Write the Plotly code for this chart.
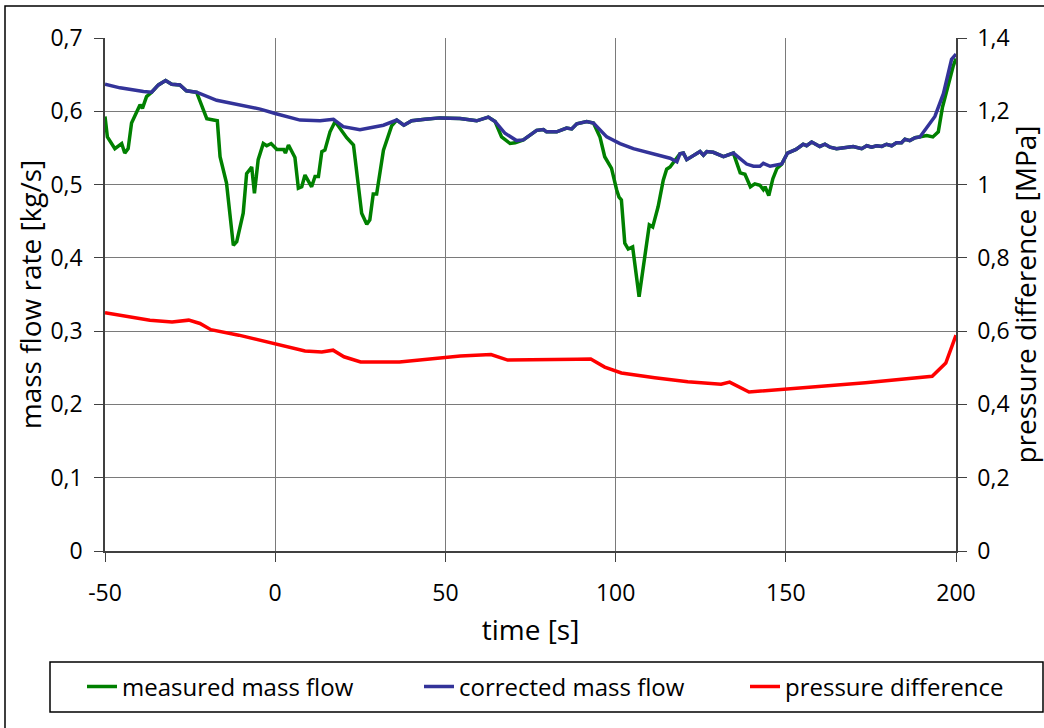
import plotly.graph_objects as go

# corrected mass flow [kg/s]
t_corr = [-50, -45.6, -38.7, -36.3, -34.3, -32.2, -30.4, -28, -26.1, -23.1, -17.2, -9.4, -4.4, 0,
          7.3, 13.2, 17.1, 20, 24.9, 31.8, 35.7, 37.8, 40.1, 44, 48.4, 54.3, 59.2, 62.6, 64.6,
          67.5, 70.9, 72.9, 76.8, 78.8, 79.7, 82.7, 85.6, 87.1, 88.6, 91.5, 93.5, 97.4, 101.3,
          105.2, 111.1, 116, 118, 118.9, 119.9, 120.9, 124.8, 125.8, 126.8, 128.7, 131.7, 134.6,
          138.5, 140.5, 142.4, 143.4, 145.4, 148.8, 150.5, 153, 155.1, 156.1, 157.6, 160, 161.5,
          163, 164.9, 169.8, 172.3, 173.8, 175.2, 176.7, 178.2, 179.6, 181.1, 182.5, 184, 185,
          186.4, 188, 189.4, 191.4, 193.8, 196.3, 198.7, 200]
m_corr = [0.637, 0.632, 0.627, 0.626, 0.636, 0.642, 0.637, 0.636, 0.628, 0.626, 0.615, 0.608, 0.603, 0.597,
          0.588, 0.587, 0.589, 0.579, 0.575, 0.581, 0.588, 0.581, 0.587, 0.589, 0.591, 0.590, 0.587, 0.592, 0.586,
          0.570, 0.560, 0.561, 0.574, 0.575, 0.572, 0.572, 0.577, 0.576, 0.583, 0.586, 0.584, 0.565, 0.556,
          0.549, 0.542, 0.536, 0.531, 0.542, 0.543, 0.534, 0.545, 0.540, 0.545, 0.544, 0.538, 0.543,
          0.528, 0.525, 0.525, 0.529, 0.525, 0.528, 0.543, 0.548, 0.555, 0.553, 0.558, 0.552, 0.555,
          0.551, 0.549, 0.552, 0.549, 0.553, 0.551, 0.553, 0.552, 0.555, 0.553, 0.557, 0.557, 0.562,
          0.560, 0.564, 0.565, 0.577, 0.593, 0.624, 0.671, 0.678]

# measured mass flow [kg/s]
t_meas = [-50, -49.3, -47.1, -45.1, -44.2, -43.2, -42.2, -39.7, -39, -37.8, -36.3, -34.3, -32.2, -30.4,
          -28, -26.1, -23.1, -22.1, -20.1, -17, -16.2, -14.3, -12.3, -11.3, -9.4, -8.4, -6.9, -6.1,
          -5, -3.5, -2.5, -1.2, 0.5, 2.5, 3, 3.9, 5.8, 6.8, 7.8, 8.75, 10.7, 11.7, 12.7, 13.7, 14.6,
          16.1, 17.6, 21, 23, 25.4, 26.9, 27.8, 28.8, 29.8, 31.8, 34.2, 35.7, 37.8, 40.1, 44, 48.4,
          54.3, 59.2, 62.6, 64.6, 66.5, 69, 70.5, 72.9, 76.8, 78.8, 79.7, 82.7, 85.6, 87.1, 88.6,
          91.5, 93.5, 95.4, 96.8, 98.8, 100.3, 101, 101.7, 102.7, 103.7, 105, 106.9, 108.6, 109.9,
          110.9, 112.5, 114, 115, 116, 117.4, 118.9, 119.9, 120.9, 124.8, 125.8, 126.8, 128.7,
          131.7, 134.6, 136.6, 138, 139.6, 140.9, 142.4, 143.4, 143.9, 145, 146.2, 147.4, 148.8,
          150.5, 153, 155.1, 156.1, 157.6, 160, 161.5, 163, 164.9, 169.8, 172.3, 173.8, 175.2,
          176.7, 178.2, 179.6, 181.1, 182.5, 184, 185, 186.4, 188, 189.4, 191.4, 193.2, 194.8,
          196, 197.6, 199.2, 200]
m_meas = [0.593, 0.565, 0.549, 0.556, 0.543, 0.549, 0.584, 0.609, 0.604, 0.620, 0.626, 0.636, 0.642, 0.637,
          0.636, 0.628, 0.626, 0.615, 0.590, 0.587, 0.538, 0.502, 0.417, 0.422, 0.461, 0.515, 0.524, 0.488,
          0.534, 0.556, 0.553, 0.556, 0.548, 0.548, 0.543, 0.554, 0.537, 0.495, 0.497, 0.513, 0.497, 0.511, 0.511, 0.545, 0.547,
          0.572, 0.586, 0.564, 0.554, 0.461, 0.446, 0.452, 0.487, 0.487, 0.547, 0.580, 0.588, 0.581, 0.587, 0.589, 0.591,
          0.590, 0.587, 0.592, 0.586, 0.565, 0.556, 0.557, 0.561, 0.574, 0.575, 0.572, 0.572, 0.577, 0.576, 0.583,
          0.586, 0.584, 0.565, 0.538, 0.522, 0.493, 0.483, 0.479, 0.420, 0.412, 0.415, 0.347, 0.399, 0.445,
          0.442, 0.470, 0.506, 0.521, 0.524, 0.533, 0.542, 0.543, 0.534, 0.545, 0.540, 0.545, 0.544,
          0.538, 0.543, 0.516, 0.514, 0.497, 0.501, 0.499, 0.493, 0.497, 0.485, 0.508, 0.522, 0.528,
          0.543, 0.548, 0.555, 0.553, 0.558, 0.552, 0.555, 0.551, 0.549, 0.552, 0.549, 0.553, 0.551,
          0.553, 0.552, 0.555, 0.553, 0.557, 0.557, 0.562, 0.560, 0.564, 0.565, 0.567, 0.565, 0.572,
          0.605, 0.635, 0.662, 0.672]

# pressure difference [MPa]
t_dp = [-50, -43.4, -36.8, -30.3, -25.4, -22.1, -18.9, -10.7, 0, 8.75, 13.7, 17, 20.2, 25.1, 36.5,
        46.3, 54.4, 63.4, 68.3, 88.7, 92.7, 96.8, 101.7, 111.5, 121.2, 131, 133.5, 139.2, 144.1,
        150.6, 158.7, 173.4, 186.4, 193, 197, 200]
dp = [0.650, 0.639, 0.630, 0.625, 0.630, 0.621, 0.604, 0.589, 0.564, 0.546, 0.543, 0.548, 0.530, 0.516, 0.516,
      0.524, 0.532, 0.536, 0.521, 0.523, 0.524, 0.502, 0.486, 0.473, 0.462, 0.455, 0.461, 0.434, 0.437,
      0.443, 0.448, 0.459, 0.472, 0.477, 0.513, 0.589]

x_ticks = [-50, 0, 50, 100, 150, 200]
y1_ticks = [0, 0.1, 0.2, 0.3, 0.4, 0.5, 0.6, 0.7]
y1_labels = ["0", "0,1", "0,2", "0,3", "0,4", "0,5", "0,6", "0,7"]
y2_ticks = [0, 0.2, 0.4, 0.6, 0.8, 1.0, 1.2, 1.4]
y2_labels = ["0", "0,2", "0,4", "0,6", "0,8", "1", "1,2", "1,4"]

FONT = "Open Sans"
FS = 23
GRID = "#7a7a7a"
AXL = "#404040"
LW = 3.5

W, H = 1044, 728
ML, MR, MT, MB = 105, 88, 38, 177
PW, PH = W - ML - MR, H - MT - MB


def px_x(p):
    return (p - ML) / PW


def px_y(p):
    return (H - MB - p) / PH


fig = go.Figure()
fig.add_trace(go.Scatter(x=t_meas, y=m_meas, mode="lines", name="measured mass flow",
                         line=dict(color="#008000", width=LW), legend="legend"))
fig.add_trace(go.Scatter(x=t_corr, y=m_corr, mode="lines", name="corrected mass flow",
                         line=dict(color="#333399", width=LW), legend="legend2"))
fig.add_trace(go.Scatter(x=t_dp, y=dp, mode="lines", name="pressure difference",
                         line=dict(color="#ff0000", width=LW), yaxis="y2", legend="legend3"))

leg_common = dict(orientation="h", yanchor="middle", xanchor="left", y=px_y(687),
                  borderwidth=0, bgcolor="rgba(0,0,0,0)", font=dict(family=FONT, size=24))

fig.update_layout(
    width=W, height=H,
    margin=dict(l=ML, r=MR, t=MT, b=MB, autoexpand=False),
    paper_bgcolor="white", plot_bgcolor="white",
    font=dict(family=FONT, size=FS, color="black"),
    showlegend=True,
    legend=dict(x=px_x(82), **leg_common),
    legend2=dict(x=px_x(419), **leg_common),
    legend3=dict(x=px_x(745), **leg_common),
    xaxis=dict(range=[-50, 200], tickvals=x_ticks, ticktext=[str(v) for v in x_ticks],
               showgrid=True, gridcolor=GRID, gridwidth=1, zeroline=False,
               showline=True, linecolor=AXL, linewidth=1.5,
               ticks="outside", ticklen=9, tickcolor=AXL, ticklabelstandoff=12,
               title=dict(text="time [s]", standoff=13)),
    yaxis=dict(range=[0, 0.7], tickvals=y1_ticks, ticktext=y1_labels,
               showgrid=True, gridcolor=GRID, gridwidth=1, zeroline=False,
               showline=True, linecolor=AXL, linewidth=1.5,
               ticks="outside", ticklen=9, tickcolor=AXL, ticklabelstandoff=7,
               title=dict(text="mass flow rate [kg/s]", standoff=1)),
    yaxis2=dict(range=[0, 1.4], tickvals=y2_ticks, ticktext=y2_labels, overlaying="y", side="right",
                showgrid=False, zeroline=False,
                showline=True, linecolor=AXL, linewidth=1.5,
                ticks="outside", ticklen=9, tickcolor=AXL, ticklabelstandoff=6,
                title=dict(text="pressure difference [MPa]", standoff=2)),
    shapes=[
        dict(type="rect", xref="paper", yref="paper",
             x0=px_x(5), x1=px_x(1100), y0=px_y(800), y1=px_y(6),
             line=dict(color="black", width=1.5), fillcolor="rgba(0,0,0,0)", layer="below"),
        dict(type="rect", xref="paper", yref="paper",
             x0=px_x(50), x1=px_x(1043), y0=px_y(712), y1=px_y(662),
             line=dict(color="black", width=1.5), fillcolor="rgba(0,0,0,0)", layer="below"),
    ],
)

fig.write_html("out.html")
